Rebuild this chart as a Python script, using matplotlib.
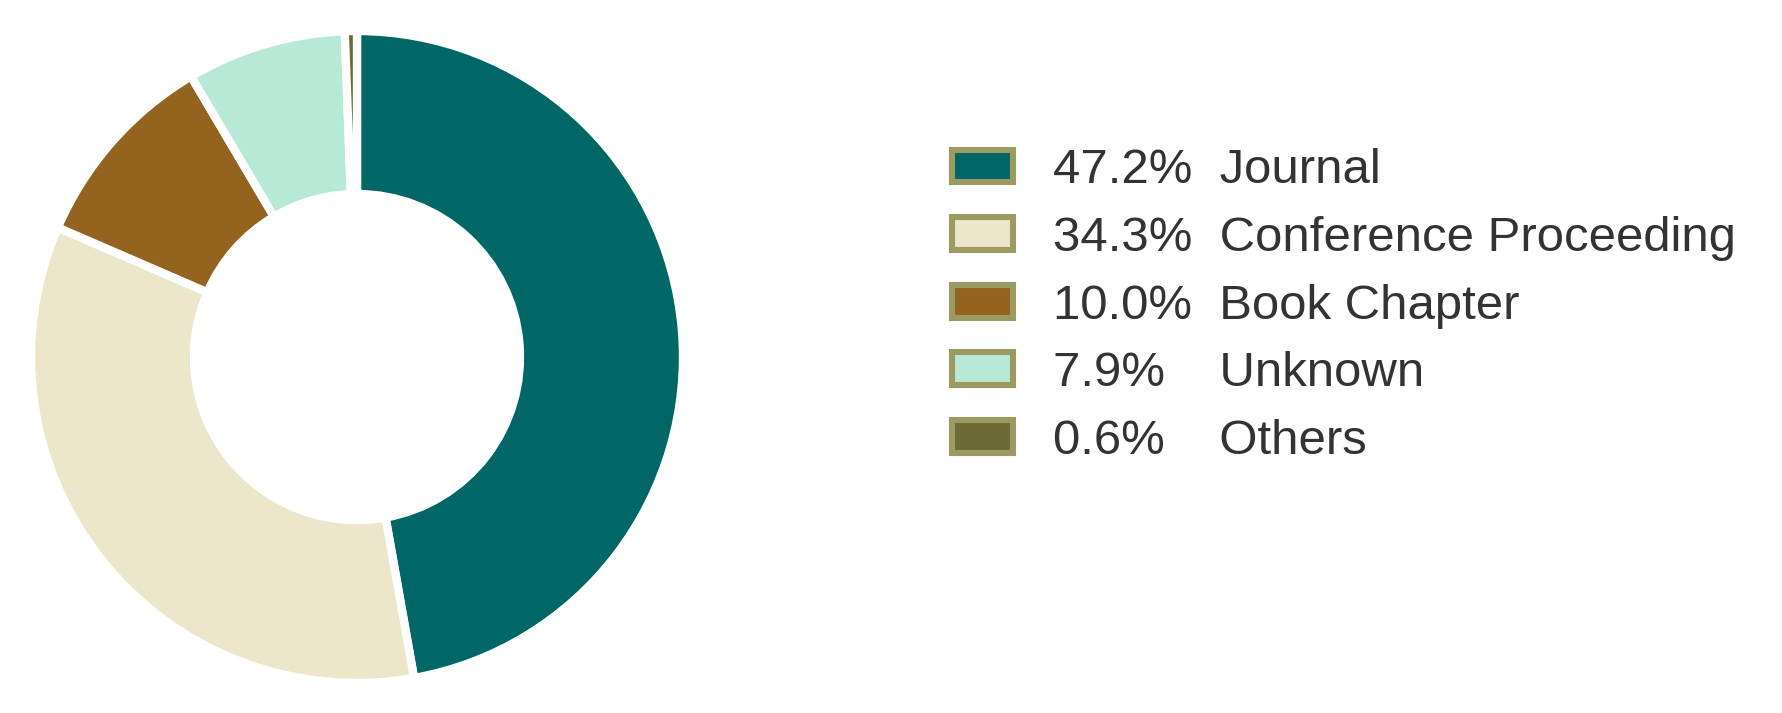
import matplotlib.pyplot as plt
from matplotlib.patches import Patch

plt.rcParams['font.family'] = ['Liberation Sans', 'DejaVu Sans']

categories = ["Journal", "Conference Proceeding", "Book Chapter", "Unknown", "Others"]
shares = [47.2, 34.3, 10.0, 7.9, 0.6]
colors = ["#016766", "#ECE6CA", "#956320", "#B6EAD7", "#6C6A37"]
edge_olive = "#9C9A63"
text_color = "#333333"

fig = plt.figure(figsize=(8.91, 3.565), dpi=200)
ax = fig.add_axes([31 / 1782, 30 / 713, 652 / 1782, 652 / 713])

ax.pie(shares, colors=colors, startangle=90, counterclock=False,
       wedgeprops=dict(width=0.5, edgecolor="white", linewidth=3.0))
ax.set_xlim(-1, 1)
ax.set_ylim(-1, 1)
ax.set_aspect("equal")
ax.axis("off")

# labels: percent column then name
labels = []
for p, c in zip(shares, categories):
    pad = "  " if p >= 10 else "    "
    labels.append(f"{p:.1f}%{pad}{c}")

handles = [Patch(facecolor=col, edgecolor=edge_olive, linewidth=2.2) for col in colors]
leg = fig.legend(handles, labels, loc="center left",
                 bbox_to_anchor=(952 / 1782, 1 - 306 / 713),
                 frameon=False, fontsize=17.7, handlelength=1.25, handleheight=0.65,
                 handletextpad=0.8, labelspacing=0.46, borderpad=0, borderaxespad=0)
for t in leg.get_texts():
    t.set_color(text_color)

fig.savefig("out.png", dpi=200, facecolor="white")
